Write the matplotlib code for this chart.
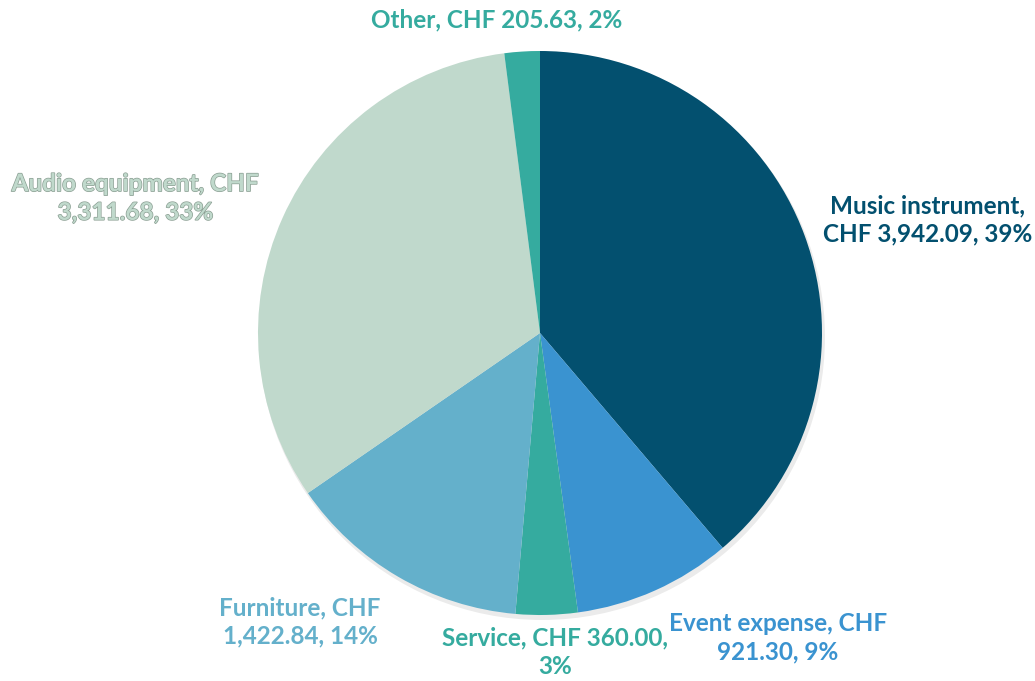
import matplotlib.pyplot as plt
import matplotlib.patheffects as pe

categories = ["Music instrument", "Event expense", "Service", "Furniture", "Audio equipment", "Other"]
values = [3942.09, 921.30, 360.00, 1422.84, 3311.68, 205.63]
percents = ["39%", "9%", "3%", "14%", "33%", "2%"]
colors = ["#03506f", "#3a93d0", "#35ab9f", "#64b0cb", "#c0d9cc", "#35ab9f"]
label_colors = ["#03506f", "#3a93d0", "#35ab9f", "#64b0cb", "#c0d9cc", "#35ab9f"]

# label layout (pixel positions from top-left) and line breaks
label_pos = [(928, 220), (778, 638), (555, 652), (300, 622), (135, 198), (497, 20)]

def fmt(v):
    return "CHF {:,.2f}".format(v)

label_texts = [
    f"{categories[0]},\n{fmt(values[0])}, {percents[0]}",
    f"{categories[1]}, CHF\n{values[1]:,.2f}, {percents[1]}",
    f"{categories[2]}, {fmt(values[2])},\n{percents[2]}",
    f"{categories[3]}, CHF\n{values[3]:,.2f}, {percents[3]}",
    f"{categories[4]}, CHF\n{values[4]:,.2f}, {percents[4]}",
    f"{categories[5]}, {fmt(values[5])}, {percents[5]}",
]

W, H = 1035, 681
fig = plt.figure(figsize=(W / 100, H / 100), dpi=100)
ax = fig.add_axes([0, 0, 1, 1])
ax.set_xlim(0, W)
ax.set_ylim(0, H)
ax.set_aspect("equal")
ax.axis("off")

cx, cy, r = 540, H - 333, 282
# soft shadow
shadow = plt.Circle((cx + 2, cy - 4), r + 1, color="#000000", alpha=0.08, lw=0)
ax.add_patch(shadow)
ax.pie(values, colors=colors, startangle=90, counterclock=False,
       center=(cx, cy), radius=r, frame=True,
       wedgeprops=dict(linewidth=0))
ax.set_xlim(0, W)
ax.set_ylim(0, H)
ax.axis("off")

for i, (txt, (px, py)) in enumerate(zip(label_texts, label_pos)):
    t = ax.text(px, H - py, txt, ha="center", va="center", fontsize=17.5,
                fontweight="bold", family="Lato", color=label_colors[i],
                linespacing=1.3)
    if i == 4:
        t.set_path_effects([pe.Stroke(linewidth=1.0, foreground="#8a9e92"), pe.Normal()])

fig.savefig("out.png", dpi=100)
